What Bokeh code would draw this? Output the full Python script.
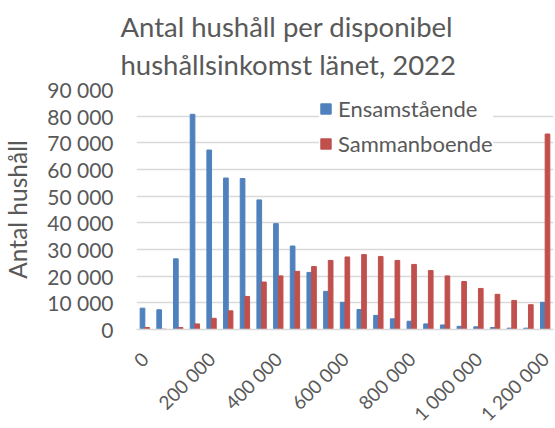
import math
from bokeh.plotting import figure
from bokeh.models import FixedTicker, Legend, LegendItem, Range1d, Title, ColumnDataSource
from bokeh.transform import dodge
from bokeh.embed import file_html
from bokeh.resources import INLINE

income = [0, 50000, 100000, 150000, 200000, 250000, 300000, 350000, 400000,
          450000, 500000, 550000, 600000, 650000, 700000, 750000, 800000,
          850000, 900000, 950000, 1000000, 1050000, 1100000, 1150000, 1200000]
ensamstaende = [8000, 7400, 26500, 80700, 67300, 56800, 56600, 48600, 39700,
                31300, 21400, 14300, 10200, 7500, 5300, 4000, 3100, 2100, 1700,
                1200, 1000, 750, 500, 500, 10200]
sammanboende = [750, 100, 750, 2100, 4200, 7000, 12400, 17800, 20100, 21800,
                23600, 25900, 27200, 28100, 27400, 25900, 24400, 22100, 20100,
                18000, 15400, 13200, 10900, 9300, 73300]
x_ticks = [0, 200000, 400000, 600000, 800000, 1000000, 1200000]
x_tick_labels = ["0", "200 000", "400 000", "600 000", "800 000", "1 000 000", "1 200 000"]
y_ticks = [0, 10000, 20000, 30000, 40000, 50000, 60000, 70000, 80000, 90000]
y_tick_labels = ["0", "10 000", "20 000", "30 000", "40 000", "50 000",
                 "60 000", "70 000", "80 000", "90 000"]
title_lines = ["Antal hushåll per disponibel", "hushållsinkomst länet, 2022"]
series_names = ["Ensamstående", "Sammanboende"]

FONT = "Lato"
GRAY = "#595959"
BLUE = "#4F81BD"
RED = "#C0504D"

src = ColumnDataSource(dict(x=income, a=ensamstaende, b=sammanboende))

p = figure(width=555, height=428, output_backend="svg", toolbar_location=None,
           x_range=Range1d(-25000, 1225000), y_range=Range1d(0, 90000))
p.min_border_left = 134
p.min_border_right = 2
p.min_border_top = 89
p.min_border_bottom = 99
p.outline_line_color = None
p.background_fill_color = "white"
p.border_fill_color = "white"

r1 = p.vbar(x=dodge("x", -7000, range=p.x_range), top="a", width=14000, source=src,
            fill_color=BLUE, line_color=BLUE)
r2 = p.vbar(x=dodge("x", 7000, range=p.x_range), top="b", width=14000, source=src,
            fill_color=RED, line_color=RED)

p.xgrid.grid_line_color = None
p.ygrid.grid_line_color = "#d9d9d9"
p.ygrid.grid_line_width = 1.5
p.ygrid.ticker = FixedTicker(ticks=y_ticks)

p.yaxis.ticker = FixedTicker(ticks=y_ticks)
p.yaxis.major_label_overrides = {t: l for t, l in zip(y_ticks, y_tick_labels)}
p.yaxis.axis_line_color = None
p.yaxis.major_tick_line_color = None
p.yaxis.minor_tick_line_color = None
p.yaxis.major_label_text_font = FONT
p.yaxis.major_label_text_font_size = "21px"
p.yaxis.major_label_text_color = GRAY
p.yaxis.major_label_standoff = 17
p.yaxis.axis_label = "Antal hushåll"
p.yaxis.axis_label_text_font = FONT
p.yaxis.axis_label_text_font_size = "24.5px"
p.yaxis.axis_label_text_font_style = "normal"
p.yaxis.axis_label_text_color = GRAY
p.yaxis.axis_label_standoff = 12

p.xaxis.ticker = FixedTicker(ticks=x_ticks)
p.xaxis.major_label_overrides = {t: l for t, l in zip(x_ticks, x_tick_labels)}
p.xaxis.major_label_orientation = math.pi / 4
p.xaxis.axis_line_color = "#d9d9d9"
p.xaxis.axis_line_width = 1.5
p.xaxis.major_tick_line_color = None
p.xaxis.minor_tick_line_color = None
p.xaxis.major_label_text_font = FONT
p.xaxis.major_label_text_font_size = "19px"
p.xaxis.major_label_text_color = GRAY
p.xaxis.major_label_standoff = 20
p.xaxis.axis_label = " "
p.xaxis.axis_label_text_font_size = "1px"
p.xaxis.axis_label_standoff = -18

p.add_layout(Title(text=title_lines[1], text_font=FONT, text_font_size="27.5px",
                   text_color=GRAY, text_font_style="normal", align="left",
                   offset=-16, standoff=17), "above")
p.add_layout(Title(text=title_lines[0], text_font=FONT, text_font_size="27.5px",
                   text_color=GRAY, text_font_style="normal", align="left",
                   offset=-16, standoff=-10), "above")

legend = Legend(items=[LegendItem(label=series_names[0], renderers=[r1]),
                       LegendItem(label=series_names[1], renderers=[r2])],
                location=(183, 172), orientation="vertical")
legend.label_text_font = FONT
legend.label_text_font_size = "22px"
legend.label_text_color = GRAY
legend.glyph_width = 13
legend.glyph_height = 13
legend.spacing = 8
legend.padding = 3
legend.margin = 0
legend.border_line_color = None
legend.background_fill_color = "white"
legend.background_fill_alpha = 1
legend.label_standoff = 6
p.add_layout(legend, "center")

open("out.html", "w").write(file_html(p, INLINE))
